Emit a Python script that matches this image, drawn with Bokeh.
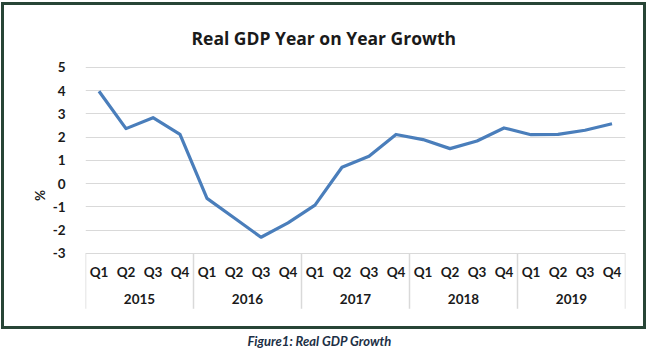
from bokeh.plotting import figure
from bokeh.models import Range1d, FixedTicker, Title, PrintfTickFormatter
from bokeh.core.properties import value
from bokeh.embed import file_html
from bokeh.resources import INLINE

years = ["2015", "2016", "2017", "2018", "2019"]
quarters = ["Q1", "Q2", "Q3", "Q4"]
growth = [3.97, 2.36, 2.83, 2.11,
          -0.64, -1.47, -2.31, -1.69,
          -0.93, 0.70, 1.17, 2.11,
          1.89, 1.50, 1.83, 2.39,
          2.10, 2.11, 2.29, 2.57]
y_ticks = [-3, -2, -1, 0, 1, 2, 3, 4, 5]

FONT = "Lato"
TEXT = "#1a1a1a"
n_q = len(quarters)
n = len(years) * n_q
xs = list(range(n))
q_labels = [quarters[i % n_q] for i in xs]
year_x = [i * n_q + (n_q - 1) / 2 for i in range(len(years))]
bounds = [i * n_q - 0.5 for i in range(len(years) + 1)]

Y_BOTTOM = -6.32
Y_TOP = 5.29
SEP_BOTTOM = -5.38
Q_Y = -3.79
YEAR_Y = -4.95

G = "#284536"
grad = f"linear-gradient({G},{G})"
frame_css = ", ".join([
    f"{grad} 1px 2px / 645px 3px no-repeat",
    f"{grad} 1px 326px / 645px 3px no-repeat",
    f"{grad} 1px 2px / 3px 327px no-repeat",
    f"{grad} 643px 2px / 3px 327px no-repeat",
    "#ffffff",
])

p = figure(width=650, height=350, output_backend="svg", toolbar_location=None,
           x_range=Range1d(-0.5, n - 0.5), y_range=Range1d(Y_BOTTOM, Y_TOP),
           min_border_left=85, min_border_right=25, min_border_top=60,
           min_border_bottom=20)
p.styles = {"background": frame_css}
p.outline_line_color = None
p.background_fill_color = None
p.border_fill_color = None

p.title.text = "Real GDP Year on Year Growth"
p.title.align = "left"
p.title.offset = 106
p.title.text_font = "Open Sans"
p.title.text_font_style = "bold"
p.title.text_font_size = "17.5px"
p.title.text_color = TEXT
p.title.standoff = 22

p.add_layout(Title(text="Figure1: Real GDP Growth", align="left", offset=162,
                   text_font=FONT, text_font_style="bold italic",
                   text_font_size="13px", text_color="#1c2f45", standoff=0),
             "below")

p.xaxis.visible = False
p.xgrid.visible = False
p.yaxis.ticker = FixedTicker(ticks=y_ticks)
p.yaxis.formatter = PrintfTickFormatter(format="%d")
p.ygrid.ticker = FixedTicker(ticks=y_ticks)
p.ygrid.grid_line_color = "#d9d9d9"
p.ygrid.grid_line_width = 1
p.yaxis.axis_line_color = None
p.yaxis.major_tick_line_color = None
p.yaxis.minor_tick_line_color = None
p.yaxis.major_label_standoff = 14
p.yaxis.major_label_text_font = FONT
p.yaxis.major_label_text_font_style = "bold"
p.yaxis.major_label_text_font_size = "13.5px"
p.yaxis.major_label_text_color = TEXT
p.yaxis.axis_label = "%"
p.yaxis.axis_label_text_font = FONT
p.yaxis.axis_label_text_font_style = "bold"
p.yaxis.axis_label_text_font_size = "13.5px"
p.yaxis.axis_label_text_color = TEXT
p.yaxis.axis_label_standoff = 2

# category box separators
p.segment(x0=bounds, y0=[y_ticks[0]] * len(bounds), x1=bounds,
          y1=[SEP_BOTTOM] * len(bounds), line_color="#d9d9d9", line_width=1.5)

p.line(xs, growth, line_color="#4a7ebb", line_width=3.2, line_join="round")

p.text(x=xs, y=[Q_Y] * n, text=q_labels, text_font=value(FONT),
       text_font_style="bold", text_font_size="13.5px", text_align="center",
       text_baseline="middle", text_color=TEXT)
p.text(x=year_x, y=[YEAR_Y] * len(years), text=years, text_font=value(FONT),
       text_font_style="bold", text_font_size="13.5px", text_align="center",
       text_baseline="middle", text_color=TEXT)

open("out.html", "w").write(file_html(p, INLINE))
